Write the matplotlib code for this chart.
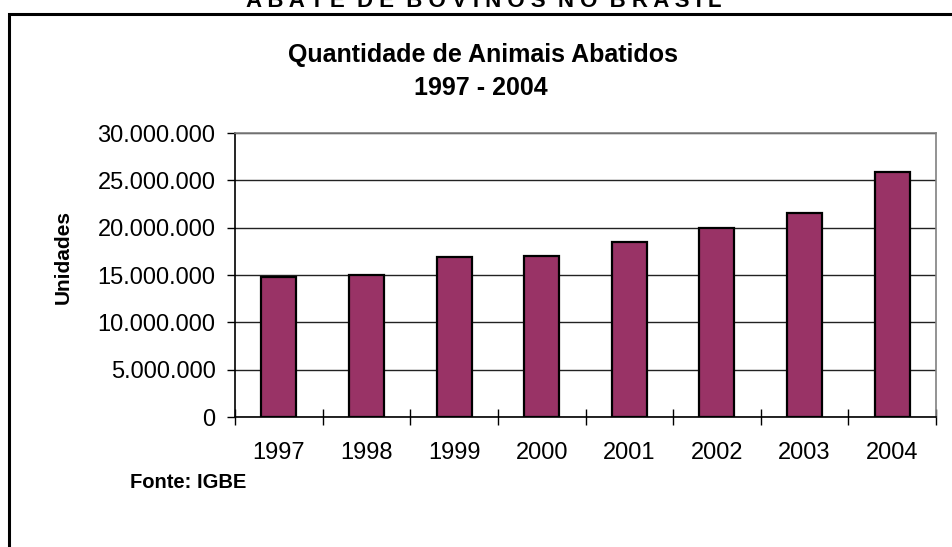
import numpy as np
import matplotlib
matplotlib.use("Agg")
from matplotlib import pyplot as plt
from matplotlib.patches import Rectangle
from matplotlib.ticker import FuncFormatter, FixedLocator

plt.rcParams['font.family'] = ['Liberation Sans', 'DejaVu Sans']

# dados: abate de bovinos (unidades)
anos = ['1997', '1998', '1999', '2000', '2001', '2002', '2003', '2004']
abatidos = [14800000, 15000000, 16850000, 17050000, 18500000, 20000000, 21600000, 25900000]
yticks = [0, 5000000, 10000000, 15000000, 20000000, 25000000, 30000000]

fig = plt.figure(figsize=(9.52, 5.47), dpi=100)

# moldura do grafico (sai pela direita e por baixo)
W, H = 952.0, 547.0
fig.patches.append(Rectangle((8.5 / W, -0.1), 1.2, 1.1 - 13.5 / H, transform=fig.transFigure,
                             fill=False, edgecolor='black', linewidth=2.2))

# cabecalho cortado no topo
cab = "A B A T E  D E  B O V I N O S  N O  B R A S I L"
fig.text(484 / W, 1 - 7 / H, cab, ha='center', va='baseline', fontsize=16, fontweight='bold')

fig.text(483 / W, 1 - 55 / H, "Quantidade de Animais Abatidos", ha='center', va='center',
         fontsize=18, fontweight='bold')
fig.text(481 / W, 1 - 88 / H, "1997 - 2004", ha='center', va='center',
         fontsize=18, fontweight='bold')

ax = fig.add_axes([235 / W, 1 - 417 / H, (936 - 235) / W, (417 - 133) / H])
x = np.arange(len(anos))
ax.bar(x, abatidos, width=0.4, color='#993366', edgecolor='black', linewidth=1.6, zorder=3)

ax.set_xlim(-0.5, len(anos) - 0.5)
ax.set_ylim(0, 30000000)
ax.set_yticks(yticks)
ax.yaxis.set_major_formatter(FuncFormatter(lambda v, p: f"{int(v):,}".replace(',', '.')))
ax.grid(axis='y', color='#222222', linewidth=1.0, zorder=1)

ax.set_xticks(x)
ax.set_xticklabels(anos)
ax.xaxis.set_minor_locator(FixedLocator(np.arange(-0.5, len(anos), 1.0)))
ax.tick_params(axis='x', which='major', length=0, pad=18, labelsize=17)
ax.tick_params(axis='x', which='minor', direction='inout', length=11, width=1.0, color='black')
ax.tick_params(axis='y', direction='out', length=6, width=1.0, pad=8, labelsize=17, color='black')

for s in ['left', 'bottom']:
    ax.spines[s].set_color('black')
    ax.spines[s].set_linewidth(1.2)
for s in ['top', 'right']:
    ax.spines[s].set_color('#808080')
    ax.spines[s].set_linewidth(1.2)

fig.text(63 / W, 1 - 257 / H, "Unidades", rotation=90, ha='center', va='center',
         fontsize=15, fontweight='bold')

fig.text(130 / W, 1 - 483 / H, "Fonte: IGBE", ha='left', va='center', fontsize=14.5, fontweight='bold')

fig.savefig("out.png", dpi=100)
